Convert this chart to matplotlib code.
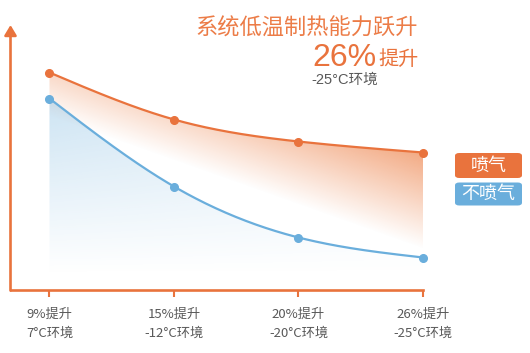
import numpy as np
import matplotlib
matplotlib.use("Agg")
from matplotlib import pyplot as plt
from matplotlib.patches import FancyBboxPatch

plt.rcParams['font.family'] = ['Noto Sans CJK SC', 'DejaVu Sans']

# data (arbitrary height units)
positions = [0, 1, 2, 3]
with_jet = [217, 170, 148, 137]      # 喷气
without_jet = [191, 103, 52, 32]     # 不喷气
tick_labels = ['9%提升\n7°C环境', '15%提升\n-12°C环境', '20%提升\n-20°C环境', '26%提升\n-25°C环境']

ORANGE = '#e9733d'
BLUE = '#6aaedc'
GRAY = '#595959'


# natural cubic spline, only used to draw a smooth line through the points
def smooth(x, y, xs):
    x = np.asarray(x, float)
    y = np.asarray(y, float)
    n = len(x)
    h = np.diff(x)
    A = np.zeros((n, n))
    b = np.zeros(n)
    A[0, 0] = A[-1, -1] = 1
    for i in range(1, n - 1):
        A[i, i - 1] = h[i - 1]
        A[i, i] = 2 * (h[i - 1] + h[i])
        A[i, i + 1] = h[i]
        b[i] = 3 * ((y[i + 1] - y[i]) / h[i] - (y[i] - y[i - 1]) / h[i - 1])
    c = np.linalg.solve(A, b)
    bb = (y[1:] - y[:-1]) / h - h * (2 * c[:-1] + c[1:]) / 3
    d = (c[1:] - c[:-1]) / (3 * h)
    idx = np.clip(np.searchsorted(x, xs) - 1, 0, n - 2)
    t = xs - x[idx]
    return y[idx] + bb[idx] * t + c[idx] * t ** 2 + d[idx] * t ** 3


fig = plt.figure(figsize=(5.3, 3.53), dpi=100)
ax = fig.add_axes([10.5 / 530, 1 - 289.5 / 353, 412.5 / 530, 264.5 / 353])

x0, x1 = -0.313, 2.99
y0, y1 = 0, 264.5

xs = np.linspace(0, 3, 300)
ys_o = smooth(positions, with_jet, xs)
ys_b = smooth(positions, without_jet, xs)

# gradient images
gx, gy = np.meshgrid(np.linspace(x0, 3.0, 300), np.linspace(y0, y1, 300))
xn = gx / 3.0

a_o = np.clip(0.3 + 0.88 * xn - 1.23 * (with_jet[0] - gy) / 185, 0, 0.7)
img_o = np.zeros(gx.shape + (4,))
img_o[..., 0], img_o[..., 1], img_o[..., 2] = 236 / 255, 122 / 255, 62 / 255
img_o[..., 3] = a_o

a_b = 0.34 * (1 - 0.45 * xn) * np.clip((gy - 15) / (without_jet[0] - 15), 0, 1)
img_b = np.zeros(gx.shape + (4,))
img_b[..., 0], img_b[..., 1], img_b[..., 2] = 106 / 255, 174 / 255, 220 / 255
img_b[..., 3] = a_b

for ys, img in [(ys_o, img_o), (ys_b, img_b)]:
    poly = ax.fill_between(xs, ys, 0, color='none')
    path = poly.get_paths()[0]
    poly.remove()
    im = ax.imshow(img, extent=(x0, 3.0, y0, y1), origin='lower', aspect='auto',
                   interpolation='bilinear', zorder=1)
    im.set_clip_path(path, transform=ax.transData)

ax.plot(xs, ys_o, color=ORANGE, lw=1.6, zorder=3, clip_on=False)
ax.plot(xs, ys_b, color=BLUE, lw=1.6, zorder=3, clip_on=False)
ax.plot(positions, with_jet, 'o', color=ORANGE, ms=5.5, zorder=4, clip_on=False)
ax.plot(positions, without_jet, 'o', color=BLUE, ms=5.5, zorder=4, clip_on=False)

ax.set_xlim(x0, x1)
ax.set_ylim(y0, y1)

for s in ['top', 'right', 'left']:
    ax.spines[s].set_visible(False)
ax.spines['bottom'].set_color(ORANGE)
ax.spines['bottom'].set_linewidth(1.9)
ax.set_yticks([])
ax.set_xticks(positions)
ax.set_xticklabels(tick_labels, fontsize=9.5, color=GRAY, linespacing=1.6)
ax.tick_params(axis='x', direction='out', length=5, width=1.5, color=ORANGE, pad=8.5)

# y axis arrow
ax.annotate('', xy=(0, 1), xytext=(0, -0.004), xycoords='axes fraction',
            arrowprops=dict(arrowstyle='-|>,head_length=0.6,head_width=0.36',
                            color=ORANGE, lw=1.9, mutation_scale=10,
                            shrinkA=0, shrinkB=0))

# headline texts
fig.text(418 / 530, 1 - 28 / 353, '系统低温制热能力跃升', fontsize=16, color='#ec7c47',
         ha='right', va='center')
fig.text(377 / 530, 1 - 66 / 353, '26%', fontsize=23, color=ORANGE, ha='right',
         va='baseline', family=['Liberation Sans', 'DejaVu Sans'])
fig.text(378 / 530, 1 - 64.5 / 353, '提升', fontsize=14.5, color=ORANGE, ha='left',
         va='baseline')
fig.text(311 / 530, 1 - 80 / 353, '-25°C环境', fontsize=10.5, color=GRAY, ha='left',
         va='center', family=['Liberation Sans', 'Noto Sans CJK SC'])

# legend boxes
for label, color, top, bottom in [('喷气', ORANGE, 153, 178), ('不喷气', BLUE, 182.5, 205.5)]:
    box = FancyBboxPatch((455 / 530, 1 - bottom / 353), 67 / 530, (bottom - top) / 353,
                         boxstyle='round,pad=0,rounding_size=0.008',
                         transform=fig.transFigure, facecolor=color, edgecolor='none')
    fig.patches.append(box)
    fig.text(488.5 / 530, 1 - (top + bottom) / 2 / 353, label, fontsize=13, color='white',
             ha='center', va='center')

fig.savefig('out.png', dpi=100)
